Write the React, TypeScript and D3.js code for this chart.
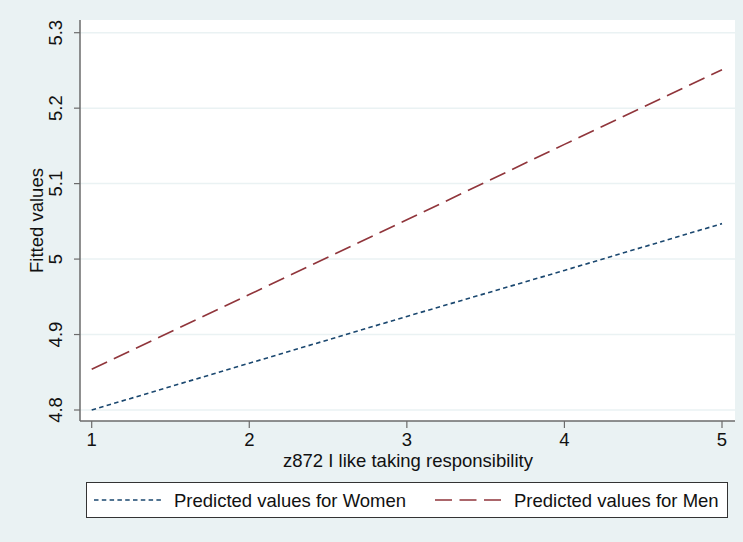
import { useEffect, useRef } from 'react'
import * as d3 from 'd3'

// values
const xValues = [1, 2, 3, 4, 5]
const women = [4.8, 4.862, 4.924, 4.985, 5.047]
const men = [4.854, 4.953, 5.052, 5.152, 5.251]
const yTicks = [4.8, 4.9, 5, 5.1, 5.2, 5.3]
const xTicks = [1, 2, 3, 4, 5]
const yTickLabels = ['4.8', '4.9', '5', '5.1', '5.2', '5.3']
const seriesNames = ['Predicted values for Women', 'Predicted values for Men']

const W = 743
const H = 542
const BG = '#EAF2F3'
const AXIS = '#6B6B6B'
const FONT = '"Liberation Sans", Arial, sans-serif'
const FS = 18.5
const COLORS = ['#1A476F', '#90353B']
const DASHES = ['4.5,3.3', '17,7.5']

export default function App() {
  const ref = useRef<SVGSVGElement>(null)

  useEffect(() => {
    const svg = d3.select(ref.current!)
    svg.selectAll('*').remove()

    const plot = { left: 80, right: 735, top: 20, bottom: 421 }
    const x = d3.scaleLinear().domain([1, 5]).range([91.7, 722])
    const y = d3.scaleLinear().domain([4.8, 5.3]).range([410, 32.7])

    svg.append('rect').attr('width', W).attr('height', H).attr('fill', BG)
    svg.append('rect').attr('x', plot.left).attr('y', plot.top)
      .attr('width', plot.right - plot.left).attr('height', plot.bottom - plot.top).attr('fill', '#fff')

    // horizontal gridlines
    svg.append('g').selectAll('line').data(yTicks).join('line')
      .attr('x1', plot.left).attr('x2', plot.right)
      .attr('y1', (d) => y(d)).attr('y2', (d) => y(d))
      .attr('stroke', BG).attr('stroke-width', 1.5)

    // axes
    svg.append('line').attr('x1', plot.left).attr('x2', plot.left)
      .attr('y1', plot.top).attr('y2', plot.bottom).attr('stroke', AXIS).attr('stroke-width', 1.5)
    svg.append('line').attr('x1', plot.left).attr('x2', plot.right)
      .attr('y1', plot.bottom).attr('y2', plot.bottom).attr('stroke', AXIS).attr('stroke-width', 1.5)

    const yt = svg.append('g').selectAll('g').data(yTicks).join('g')
    yt.append('line').attr('x1', plot.left - 6).attr('x2', plot.left)
      .attr('y1', (d) => y(d)).attr('y2', (d) => y(d)).attr('stroke', AXIS).attr('stroke-width', 1.2)
    yt.append('text').attr('transform', (d) => `translate(62,${y(d)}) rotate(-90)`)
      .attr('text-anchor', 'middle').attr('font-family', FONT).attr('font-size', FS)
      .attr('fill', '#111').text((_d, i) => yTickLabels[i])

    const xt = svg.append('g').selectAll('g').data(xTicks).join('g')
    xt.append('line').attr('x1', (d) => x(d)).attr('x2', (d) => x(d))
      .attr('y1', plot.bottom).attr('y2', plot.bottom + 7).attr('stroke', AXIS).attr('stroke-width', 1.2)
    xt.append('text').attr('x', (d) => x(d)).attr('y', 446)
      .attr('text-anchor', 'middle').attr('font-family', FONT).attr('font-size', FS)
      .attr('fill', '#111').text((d) => String(d))

    svg.append('text').attr('x', (plot.left + plot.right) / 2 + 0.5).attr('y', 467)
      .attr('text-anchor', 'middle').attr('font-family', FONT).attr('font-size', FS)
      .attr('fill', '#111').text('z872 I like taking responsibility')
    svg.append('text').attr('transform', `translate(43,${(plot.top + plot.bottom) / 2}) rotate(-90)`)
      .attr('text-anchor', 'middle').attr('font-family', FONT).attr('font-size', FS)
      .attr('fill', '#111').text('Fitted values')

    // fitted lines
    const line = d3.line<number>().x((_d, i) => x(xValues[i])).y((d) => y(d))
    ;[women, men].forEach((s, i) => {
      svg.append('path').datum(s).attr('d', line).attr('fill', 'none')
        .attr('stroke', COLORS[i]).attr('stroke-width', 1.6).attr('stroke-dasharray', DASHES[i])
    })

    // legend
    const lg = svg.append('g')
    lg.append('rect').attr('x', 86.5).attr('y', 482.5).attr('width', 641).attr('height', 35)
      .attr('fill', '#fff').attr('stroke', '#333').attr('stroke-width', 1)
    const keys = [{ x0: 94, x1: 162, tx: 174 }, { x0: 435, x1: 502, tx: 514 }]
    keys.forEach((k, i) => {
      lg.append('line').attr('x1', k.x0).attr('x2', k.x1).attr('y1', 500).attr('y2', 500)
        .attr('stroke', COLORS[i]).attr('stroke-width', 1.4).attr('stroke-dasharray', DASHES[i])
      lg.append('text').attr('x', k.tx).attr('y', 506.5).attr('font-family', FONT).attr('font-size', FS)
        .attr('fill', '#111').text(seriesNames[i])
    })
  }, [])

  return (
    <svg ref={ref} width={W} height={H}
      style={{ position: 'fixed', left: 0, top: 0, display: 'block' }} />
  )
}
